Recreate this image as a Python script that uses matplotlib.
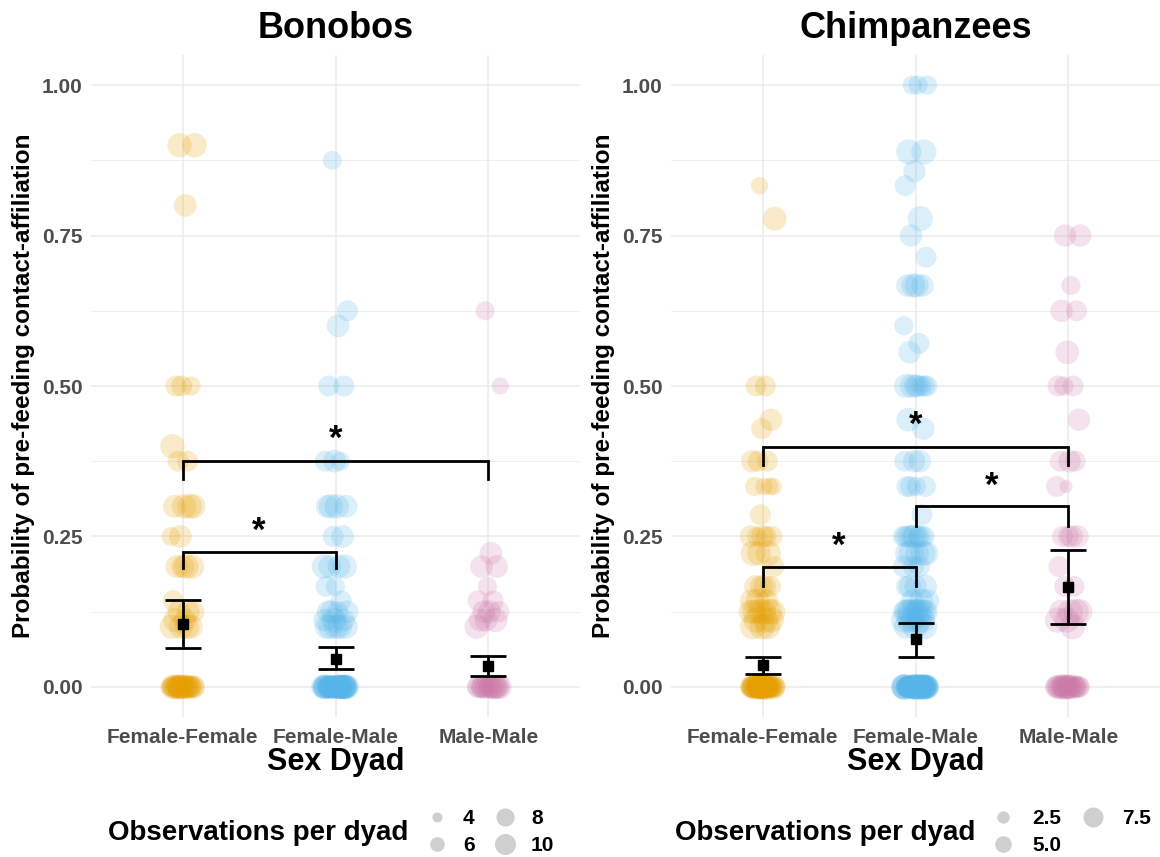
import numpy as np
import matplotlib.pyplot as plt

plt.rcParams['font.family'] = ['Liberation Sans', 'DejaVu Sans']
plt.rcParams['font.weight'] = 'bold'

W, H, DPI = 1160, 857, 100

dyads = ['Female-Female', 'Female-Male', 'Male-Male']
colors = ['#E69F00', '#56B4E9', '#CC79A7']

# Bonobos: per-dyad probabilities and observations per dyad
bon_ff_p = [0.9, 0.9, 0.8, 0.5, 0.5, 0.5, 0.4, 0.375, 0.375, 0.3, 0.3, 0.3, 0.3,
            0.25, 0.25, 0.2, 0.2, 0.2, 0.2, 0.143, 0.125, 0.125, 0.125, 0.111,
            0.111, 0.1, 0.1, 0.1, 0.1] + [0.0] * 22
bon_ff_n = [10, 10, 9, 8, 7, 8, 10, 8, 8, 10, 10, 9, 10, 9, 7, 10, 9, 10, 9, 8, 9,
            9, 8, 9, 10, 10, 10, 10, 10] + [8, 9, 10, 8, 9, 10, 7, 10, 9, 8, 9, 10,
                                            8, 10, 9, 8, 10, 9, 10, 7, 9, 8]
bon_fm_p = [0.875, 0.625, 0.6, 0.5, 0.5, 0.375, 0.375, 0.375, 0.3, 0.3, 0.3, 0.3,
            0.25, 0.25, 0.2, 0.2, 0.2, 0.2, 0.167, 0.167, 0.143, 0.125, 0.125,
            0.125, 0.125, 0.111, 0.111, 0.111, 0.1, 0.1, 0.1, 0.1, 0.1] + [0.0] * 40
bon_fm_n = [7, 8, 9, 8, 8, 9, 8, 7, 10, 9, 10, 9, 9, 8, 10, 9, 9, 10, 7, 8, 8, 9,
            9, 8, 9, 9, 10, 9, 10, 10, 10, 10, 10] + [8, 9, 10, 8, 9, 10, 7, 10, 9,
                                                      8, 9, 10, 8, 10, 9, 8, 10, 9,
                                                      10, 7, 9, 8, 9, 10, 10, 8, 9,
                                                      8, 10, 9, 10, 9, 8, 8, 10, 9,
                                                      9, 10, 8, 10]
bon_mm_p = [0.625, 0.5, 0.222, 0.2, 0.2, 0.167, 0.143, 0.143, 0.125, 0.125, 0.125,
            0.111, 0.111, 0.111, 0.1] + [0.0] * 16
bon_mm_n = [7, 6, 9, 9, 9, 7, 8, 8, 9, 8, 9, 9, 10, 9, 10] + [8, 9, 10, 8, 9, 10,
                                                            7, 10, 9, 8, 9, 10,
                                                            8, 10, 9, 8]

# Chimpanzees: per-dyad probabilities and observations per dyad
chi_ff_p = [0.833, 0.778, 0.5, 0.5, 0.444, 0.429, 0.375, 0.375, 0.375, 0.333,
            0.333, 0.333, 0.333, 0.286, 0.25, 0.25, 0.25, 0.25, 0.25, 0.222,
            0.222, 0.222, 0.2, 0.167, 0.167, 0.167, 0.167, 0.143, 0.143, 0.143,
            0.125, 0.125, 0.125, 0.125, 0.125, 0.125, 0.111, 0.111, 0.111, 0.1,
            0.1, 0.1] + [0.0] * 35
chi_ff_n = [4, 8, 6, 6, 7, 6, 7, 6, 6, 4, 4, 5, 4, 6, 7, 6, 5, 6, 7, 9, 9, 8, 6,
            7, 7, 6, 7, 8, 7, 8, 9, 9, 8, 9, 9, 8, 9, 9, 9, 9, 9, 9] + [
            6, 7, 8, 5, 7, 9, 6, 9, 7, 6, 8, 7, 5, 9, 6, 7, 9, 6, 7, 8, 5, 7, 9,
            6, 7, 5, 8, 6, 9, 7, 6, 9, 7, 6, 8]
chi_fm_p = [1.0, 1.0, 1.0, 0.889, 0.889, 0.857, 0.833, 0.778, 0.75, 0.714, 0.667,
            0.667, 0.667, 0.667, 0.6, 0.571, 0.556, 0.5, 0.5, 0.5, 0.5, 0.5, 0.5,
            0.5, 0.444, 0.429, 0.375, 0.375, 0.375, 0.333, 0.333, 0.333, 0.333,
            0.286, 0.25, 0.25, 0.25, 0.25, 0.25, 0.25, 0.25, 0.25, 0.222, 0.222,
            0.222, 0.222, 0.222, 0.2, 0.2, 0.2, 0.167, 0.167, 0.167, 0.167, 0.143,
            0.143, 0.143, 0.125, 0.125, 0.125, 0.125, 0.125, 0.125, 0.125, 0.125,
            0.125, 0.125, 0.111, 0.111, 0.111, 0.111, 0.111, 0.1, 0.1,
            0.1] + [0.0] * 60
chi_fm_n = [5, 5, 5, 9, 9, 7, 6, 9, 7, 6, 8, 7, 7, 8, 5, 6, 7, 6, 7, 8, 6, 8, 6,
            7, 8, 7, 7, 6, 7, 6, 6, 5, 6, 6, 7, 6, 6, 7, 6, 8, 6, 7, 9, 8, 8, 9,
            9, 6, 7, 6, 7, 8, 7, 6, 8, 7, 8, 9, 8, 8, 9, 8, 9, 9, 8, 8, 9, 9, 8,
            9, 9, 9, 9, 9, 8] + [
            6, 7, 8, 5, 7, 9, 6, 9, 7, 6, 8, 7, 5, 9, 6, 7, 9, 6, 7, 8, 5, 7, 9,
            6, 7, 5, 8, 6, 9, 7, 6, 9, 7, 6, 8, 7, 5, 9, 7, 6, 9, 8, 6, 7, 7, 9,
            6, 5, 8, 9, 7, 6, 7, 9, 6, 8, 7, 9, 7, 6]
chi_mm_p = [0.75, 0.75, 0.667, 0.625, 0.625, 0.556, 0.5, 0.5, 0.5, 0.444, 0.375,
            0.375, 0.375, 0.333, 0.333, 0.25, 0.25, 0.25, 0.25, 0.2, 0.167, 0.167,
            0.125, 0.125, 0.125, 0.125, 0.111, 0.111, 0.1] + [0.0] * 20
chi_mm_n = [7, 7, 5, 7, 6, 8, 6, 6, 5, 7, 7, 6, 6, 2, 6, 7, 6, 7, 6, 6, 6, 6, 9,
            9, 8, 9, 9, 9, 9] + [6, 7, 8, 5, 7, 9, 6, 9, 7, 6, 8, 7, 5, 9, 6, 7,
                                 9, 6, 7, 8]

# Model estimates (mean and 95% CI) per dyad
bon_mean = [0.104, 0.047, 0.034]
bon_lo = [0.065, 0.029, 0.018]
bon_hi = [0.144, 0.067, 0.052]
chi_mean = [0.036, 0.079, 0.166]
chi_lo = [0.021, 0.050, 0.104]
chi_hi = [0.050, 0.107, 0.227]

# Significant pairwise comparisons: (dyad a, dyad b, bracket height, leg end, star height)
bon_sig = [(0, 1, 0.2245, 0.197, 0.274), (0, 2, 0.375, 0.346, 0.426)]
chi_sig = [(0, 1, 0.200, 0.167, 0.249), (1, 2, 0.300, 0.268, 0.349),
           (0, 2, 0.399, 0.369, 0.450)]

bon_legend = [4, 6, 8, 10]
chi_legend = [2.5, 5.0, 7.5]

PT = 72.0 / DPI
POINT_SCALE = 1.35  # plotted dots are drawn a bit larger than the legend keys


def size_bon(n):
    d2 = -127 + 56.8 * np.asarray(n, dtype=float)
    return np.clip(d2, 25, None) * PT ** 2


def size_chi(n):
    d2 = 30 + 49 * np.asarray(n, dtype=float)
    return d2 * PT ** 2


def jitter(k, width=0.08):
    i = np.arange(k)
    return width * (2 * ((i * 0.6180339887 + 0.37) % 1.0) - 1)


fig = plt.figure(figsize=(W / DPI, H / DPI), dpi=DPI)
ax_b = fig.add_axes([91 / W, 1 - 717 / H, 489 / W, 662 / H])
ax_c = fig.add_axes([671 / W, 1 - 717 / H, 489 / W, 662 / H])

panels = [
    (ax_b, 'Bonobos', [(bon_ff_p, bon_ff_n), (bon_fm_p, bon_fm_n), (bon_mm_p, bon_mm_n)],
     bon_mean, bon_lo, bon_hi, bon_sig, size_bon),
    (ax_c, 'Chimpanzees', [(chi_ff_p, chi_ff_n), (chi_fm_p, chi_fm_n), (chi_mm_p, chi_mm_n)],
     chi_mean, chi_lo, chi_hi, chi_sig, size_chi),
]

grid_c = '#EBEBEB'
for ax, title, groups, mean, lo, hi, sig, sfun in panels:
    for i, (p, n) in enumerate(groups):
        x = i + jitter(len(p))
        ax.scatter(x, p, s=sfun(n) * POINT_SCALE, color=colors[i], alpha=0.21,
                   linewidths=0, zorder=2)
    mean = np.array(mean)
    ax.errorbar(np.arange(3), mean, yerr=[mean - np.array(lo), np.array(hi) - mean],
                fmt='s', color='black', ms=6.5, elinewidth=2, capsize=13,
                capthick=2, zorder=4)
    for a, b, yb, yt, ys in sig:
        ax.plot([a, a, b, b], [yt, yb, yb, yt], color='black', lw=2,
                solid_joinstyle='miter', zorder=5)
        ax.text((a + b) / 2, ys - 0.031, '*', ha='center', va='baseline',
                fontsize=25, color='black', zorder=5)

    ax.set_xlim(-0.6, 2.6)
    ax.set_ylim(-0.05, 1.05)
    ax.set_xticks(range(3))
    ax.set_xticklabels(dyads)
    ax.set_yticks([0, 0.25, 0.5, 0.75, 1.0])
    ax.set_yticklabels(['0.00', '0.25', '0.50', '0.75', '1.00'])
    ax.set_yticks([0.125, 0.375, 0.625, 0.875], minor=True)
    ax.grid(True, which='major', color=grid_c, lw=1.1, zorder=0)
    ax.grid(True, which='minor', axis='y', color=grid_c, lw=0.6, zorder=0)
    ax.set_axisbelow(True)
    for s in ax.spines.values():
        s.set_visible(False)
    ax.tick_params(axis='both', which='both', length=0, labelsize=15,
                   labelcolor='#4D4D4D')
    ax.tick_params(axis='x', pad=8)
    ax.tick_params(axis='y', pad=6)

    ax.set_xlabel('Sex Dyad', fontsize=22, fontweight='bold', color='black')
    ax.xaxis.set_label_coords(0.5, -0.068)
    ax.xaxis.label.set_va('center')
    ax.set_ylabel('Probability of pre-feeding contact-affiliation', fontsize=17.5,
                  fontweight='bold', color='black')
    ax.yaxis.set_label_coords(-0.138, 0.5)
    ax.yaxis.label.set_va('center')
    ax.text(0.5, (717 - 28) / 662, title, transform=ax.transAxes, ha='center',
            va='center', fontsize=26, fontweight='bold', color='black')

# Size legends below each panel
lax = fig.add_axes([0, 0, 1, 1])
lax.set_xlim(0, W)
lax.set_ylim(H, 0)
lax.axis('off')
key_c = '#CFCFCF'

lax.text(258, 840, 'Observations per dyad', ha='center', va='baseline',
         fontsize=20, fontweight='bold')
for k, n in enumerate(bon_legend):
    col, row = divmod(k, 2)
    kx = 437 + col * 68
    ky = 817 + row * 27
    lax.scatter([kx], [ky], s=size_bon(n), color=key_c, linewidths=0)
    lax.text(kx + 26, ky + 7, str(n), ha='left', va='baseline', fontsize=15,
             fontweight='bold')

lax.text(825, 840, 'Observations per dyad', ha='center', va='baseline',
         fontsize=20, fontweight='bold')
for k, n in enumerate(chi_legend):
    col, row = divmod(k, 2)
    kx = 1003 + col * 90
    ky = 817 + row * 27
    lax.scatter([kx], [ky], s=size_chi(n), color=key_c, linewidths=0)
    lax.text(kx + 29, ky + 7, f'{n:.1f}', ha='left', va='baseline', fontsize=15,
             fontweight='bold')

fig.savefig('out.png', dpi=DPI)
